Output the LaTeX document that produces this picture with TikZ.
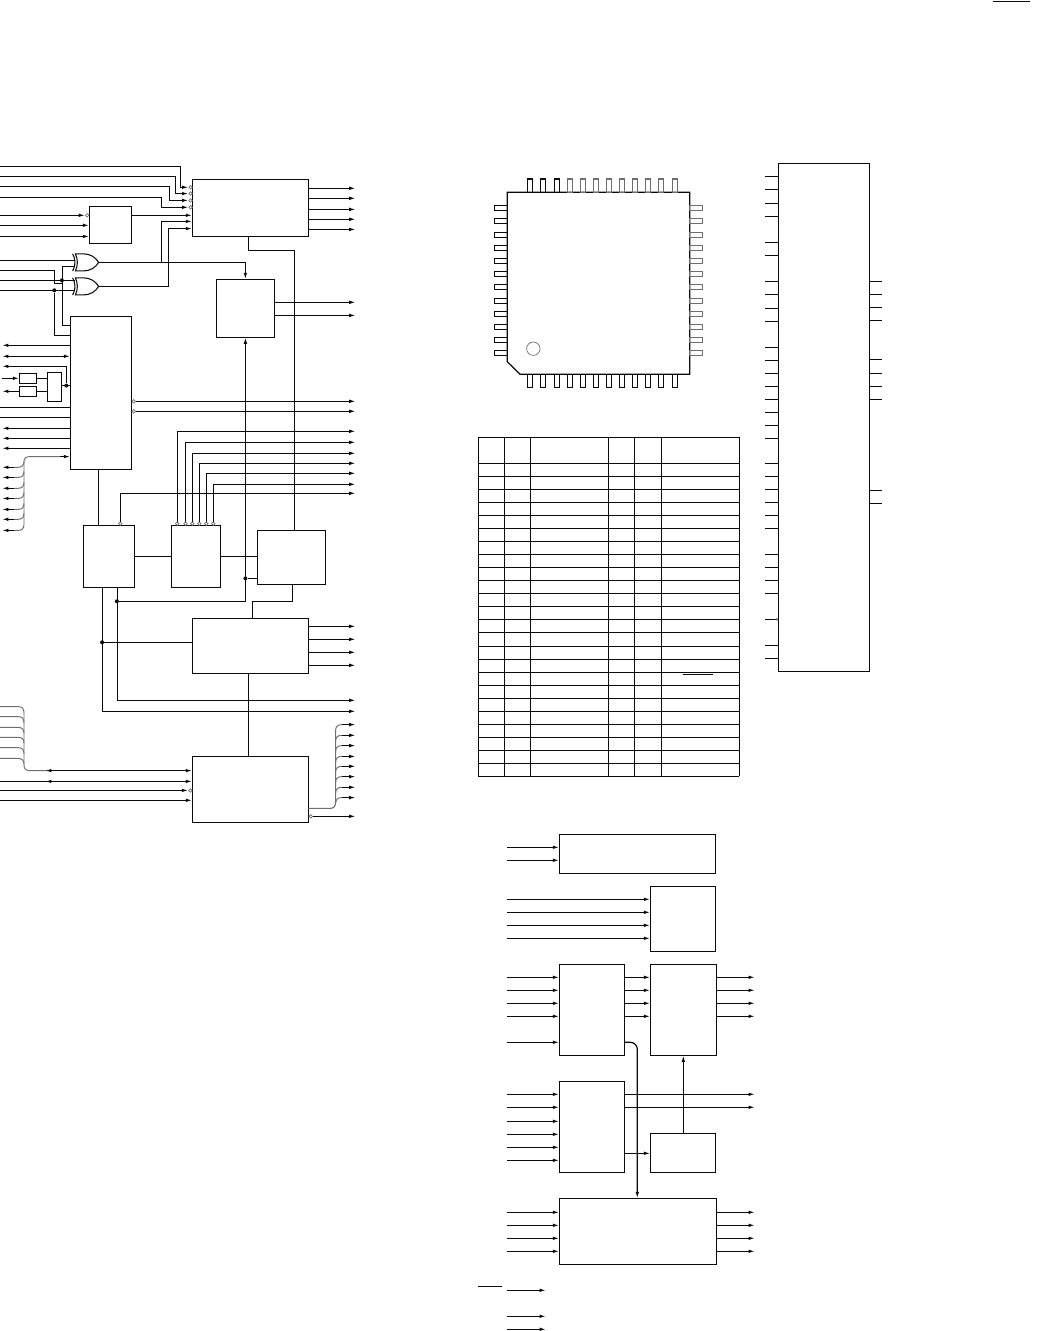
\documentclass[tikz,border=0pt]{standalone}
\usepackage{xcolor}
\usepackage{tikz}
\usetikzlibrary{arrows.meta, calc, shapes.gates.logic.US}
\definecolor{mydark}{RGB}{10,10,10}
\definecolor{mythin}{RGB}{110,110,110}
\tikzset{
  >={Latex[length=1.3mm,width=0.72mm]},
  block/.style={rectangle, draw=mydark, line width=0.7pt, outer sep=0pt,
    inner sep=0pt, anchor=north west},
  boxsize/.style 2 args={minimum width=#1*0.02cm, minimum height=#2*0.02cm},
  wire/.style={line width=0.7pt, color=mydark},
  arrow/.style={->, line width=0.7pt, color=mydark},
  busline/.style={line width=0.55pt, color=mythin},
  opendot/.style={circle, draw=mythin, fill=white, line width=0.4pt,
    inner sep=0pt, minimum size=0.07cm},
  soliddot/.style={circle, fill=mydark, inner sep=0pt, minimum size=0.08cm},
  xorgate/.style={xor gate US, draw=mydark, line width=0.6pt, logic gate inputs=nn,
    inner sep=0pt, scale=0.62, anchor=output}
}
\begin{document}
\begin{tikzpicture}[x=0.02cm, y=-0.02cm]
  \useasboundingbox (0,0) rectangle (1043,1331);
  % Corner mark
  \coordinate (marka) at (993,1.4);
  \coordinate (markb) at (1030,1.4);
  \draw[wire] (marka) -- (markb);

  % Blocks of the left schematic
  \node[block, boxsize={116}{57}] (blkA) at (192.3,179.3) {};
  \node[block, boxsize={42}{37}] (blkB) at (89.3,206.3) {};
  \node[block, boxsize={58}{58}] (blkC) at (216.3,279.3) {};
  \node[block, boxsize={61}{153}] (blkD) at (70.3,316.3) {};
  \node[block, boxsize={17.4}{10}] (blkFa) at (19.3,373.3) {};
  \node[block, boxsize={17.4}{10}] (blkFb) at (19.3,386.3) {};
  \node[block, boxsize={14.4}{29}] (blkG) at (47.3,372.3) {};
  \node[block, boxsize={51}{62}] (blkH) at (83.3,525.3) {};
  \node[block, boxsize={49}{62}] (blkJ) at (171.3,525.3) {};
  \node[block, boxsize={68}{54}] (blkE) at (257.3,530.3) {};
  \node[block, boxsize={116}{55}] (blkK) at (192.3,618.3) {};
  \node[block, boxsize={116}{66}] (blkL) at (192.3,756.3) {};
  \node[xorgate] (xorA) at (99,262.4) {};
  \node[xorgate] (xorB) at (99,286.4) {};

  % Outputs of the top block
  \foreach \y [count=\i] in {188.3,198.3,209.4,219.3,229.4} {
    \coordinate (outA\i) at (355.7,\y);
    \draw[arrow] (blkA.east |- outA\i) -- (outA\i);
  }
  % Inputs with open circles
  \node[opendot] (dotAa) at (190.6,187.3) {};
  \node[opendot] (dotAb) at (190.6,193.6) {};
  \node[opendot] (dotAc) at (190.6,200.4) {};
  \node[opendot] (dotAd) at (190.6,207.3) {};
  \coordinate (inAa) at (0,166.3);
  \coordinate (inAb) at (0,176.3);
  \coordinate (inAc) at (0,186.3);
  \coordinate (inAd) at (0,197.3);
  \draw[arrow] (inAa) -- (180.7,166.3) -- (180.7,187.3) -- (dotAa);
  \draw[arrow] (inAb) -- (175.3,176.3) -- (175.3,193.6) -- (dotAb);
  \draw[arrow] (inAc) -- (169.3,186.3) -- (169.3,200.4) -- (dotAc);
  \draw[arrow] (inAd) -- (161.7,197.3) -- (161.7,207.3) -- (dotAd);
  % Small block
  \node[opendot] (dotB) at (87.2,215.3) {};
  \coordinate (inBa) at (0,215.3);
  \coordinate (inBb) at (0,225.3);
  \coordinate (inBc) at (0,236.4);
  \draw[arrow] (inBa) -- (dotB);
  \draw[arrow] (inBb) -- (blkB.west |- inBb);
  \draw[arrow] (inBc) -- (blkB.west |- inBc);
  \draw[arrow] (blkB.east |- 0,215.3) -- (blkA.west |- 0,215.3);
  % Exclusive-or gates
  \coordinate (inXa) at (0,260.3);
  \coordinate (inXb) at (0,270.4);
  \coordinate (inXc) at (0,280.3);
  \coordinate (inXd) at (0,290.3);
  \node[soliddot] (dotXa) at (61.9,280.3) {};
  \node[soliddot] (dotXb) at (54.3,290.3) {};
  \draw[wire] (inXa) -- (75,260.3);
  \draw[wire] (inXb) -- (54.3,270.4) -- (54.3,283.3) -- (62.3,283.3);
  \draw[wire] (inXc) -- (75,280.3);
  \draw[wire] (inXd) -- (75,290.3);
  \draw[wire] (blkD.west |- 0,325.3) -- (62.3,325.3) -- (62.3,266.3) -- (75,266.3);
  \draw[wire] (dotXb) -- (54.3,335.3) -- (blkD.west |- 0,335.3);
  \draw[arrow] (xorA.output) -- (245.4,262.4) -- (blkC.north -| 245.4,0);
  \draw[arrow] (161.7,262.4) -- (161.7,221.4) -- (blkA.west |- 0,221.4);
  \draw[arrow] (xorB.output) -- (168.3,286.4) -- (168.3,228.6) -- (blkA.west |- 0,228.6);
  % Long runs on the right
  \draw[wire] (248.3,236.3) -- (248.3,250.3) -- (294.3,250.3) -- (blkE.north -| 294.3,0);
  \foreach \y [count=\i] in {302.3,315.4} {
    \coordinate (outC\i) at (355.7,\y);
    \draw[arrow] (blkC.east |- outC\i) -- (outC\i);
  }
  % Left side of the tall block
  \foreach \y [count=\i] in {345.3,428.3,438.3,448.3} {
    \coordinate (lftD\i) at (2,\y);
    \draw[arrow] (blkD.west |- lftD\i) -- (lftD\i);
  }
  \coordinate (lftDe) at (2,356.3);
  \draw[<->, wire] (lftDe) -- (blkD.west |- lftDe);
  \node[soliddot] (dotG) at (66.3,385.6) {};
  \coordinate (lftDf) at (2,366.3);
  \draw[arrow] (dotG) -- (66.3,366.3) -- (lftDf);
  \draw[wire] (blkG.east |- dotG) -- (blkD.west |- dotG);
  \draw[wire] (blkFa.east) -- (blkG.west |- blkFa.east);
  \draw[wire] (blkFb.east) -- (blkG.west |- blkFb.east);
  \coordinate (inFa) at (2,378.3);
  \coordinate (outFb) at (2,391.3);
  \draw[arrow] (inFa) -- (blkFa.west);
  \draw[arrow] (blkFb.west) -- (outFb);
  \coordinate (inDa) at (0,407.3);
  \coordinate (inDb) at (0,417.3);
  \draw[wire] (inDa) -- (blkD.west |- inDa);
  \draw[wire] (inDb) -- (blkD.west |- inDb);
  % Bus at the lower left of the tall block
  \draw[busline] (24,524) -- (24,462) .. controls (24,458) and (26,456.6) .. (30,456.6) -- (60,456.6);
  \draw[->, wire] (60,456.6) -- (blkD.west |- 0,456.6);
  \foreach \y [count=\i] in {467.3,477.4,488.3,498.4,509.4,519.3,530.4} {
    \coordinate (busD\i) at (2,\y);
    \draw[busline] (24,\y-6) .. controls (24,\y-2) and (22,\y) .. (18,\y) -- (14,\y);
    \draw[arrow] (14,\y) -- (busD\i);
  }
  % Right outputs of the tall block
  \node[opendot] (dotDa) at (133.7,401.3) {};
  \node[opendot] (dotDb) at (133.7,411.3) {};
  \coordinate (outDa) at (355.7,401.3);
  \coordinate (outDb) at (355.7,411.3);
  \draw[arrow] (dotDa) -- (outDa);
  \draw[arrow] (dotDb) -- (outDb);
  \draw[wire] (blkD.south -| 98.3,0) -- (blkH.north -| 98.3,0);
  % Open circles on the middle row
  \node[opendot] (dotH) at (120.3,523.6) {};
  \coordinate (outH) at (355.7,493.3);
  \draw[arrow] (dotH) -- (120.3,493.3) -- (outH);
  \foreach \x/\y [count=\i] in {177.3/431.3,185.4/442.3,192.3/453.3,199.3/463.3,206.3/473.3,213.3/484.3} {
    \node[opendot] (dotJ\i) at (\x,523.6) {};
    \coordinate (outJ\i) at (355.7,\y);
    \draw[arrow] (dotJ\i) -- (\x,\y) -- (outJ\i);
  }
  \draw[wire] (blkH.east |- 0,556.3) -- (blkJ.west |- 0,556.3);
  \draw[wire] (blkJ.east |- 0,556.3) -- (blkE.west |- 0,556.3);
  % Feedback into the block above
  \node[soliddot] (dotEa) at (245.4,578.4) {};
  \node[soliddot] (dotEb) at (116.9,601.3) {};
  \draw[wire] (blkE.west |- dotEa) -- (dotEa);
  \draw[arrow] (dotEb) -- (245.4,601.3) -- (blkC.south -| 245.4,0);
  \draw[wire] (292.7,584.3) -- (292.7,601.3) -- (252.3,601.3) -- (252.3,618.3);
  % Below the middle row
  \node[soliddot] (dotK) at (102.1,642.3) {};
  \coordinate (outHa) at (355.7,700.3);
  \coordinate (outHb) at (355.7,711.3);
  \draw[arrow] (117.3,587.3) -- (117.3,700.3) -- (outHa);
  \draw[arrow] (102.3,587.3) -- (102.3,711.3) -- (outHb);
  \draw[wire] (dotK) -- (blkK.west |- dotK);
  \foreach \y [count=\i] in {626.3,639.3,652.3,665.3} {
    \coordinate (outK\i) at (355.7,\y);
    \draw[arrow] (blkK.east |- outK\i) -- (outK\i);
  }
  \draw[wire] (248.3,673.3) -- (248.3,756.3);
  % Bottom block, left side
  \foreach \y in {706.6,716.6,727.4,737.3,747.6,758.4} {
    \draw[busline] (0,\y) -- (18,\y) .. controls (22,\y) and (24,\y+2) .. (24,\y+6);
  }
  \draw[busline] (24,712) -- (24,765) .. controls (24,769) and (26,770.6) .. (30,770.6) -- (47,770.6);
  \coordinate (tipLa) at (45,770.6);
  \draw[<->, wire] (tipLa) -- (blkL.west |- tipLa);
  \coordinate (inLb) at (0,781.4);
  \coordinate (tipLb) at (45,781.4);
  \draw[arrow] (inLb) -- (blkL.west |- inLb);
  \draw[arrow] (52,781.4) -- (tipLb);
  \node[opendot] (dotLa) at (190.4,790.4) {};
  \coordinate (inLc) at (0,790.4);
  \coordinate (inLd) at (0,800.3);
  \draw[arrow] (inLc) -- (dotLa);
  \draw[arrow] (inLd) -- (blkL.west |- inLd);
  % Bottom block, right side
  \draw[busline, line width=0.65pt] (blkL.east |- 0,808.4) -- (330,808.4) .. controls (334,808.4) and (335.6,806) .. (335.6,802) -- (335.6,730);
  \foreach \y [count=\i] in {724.6,735.3,745.6,756.4,766.3,776.6,787.3,797.6} {
    \coordinate (outL\i) at (355.7,\y);
    \draw[busline] (335.6,\y+6) .. controls (335.6,\y+2) and (337.5,\y) .. (342,\y);
    \draw[arrow] (342,\y) -- (outL\i);
  }
  \node[opendot] (dotLb) at (310.8,816.3) {};
  \coordinate (outLx) at (355.7,816.3);
  \draw[arrow] (dotLb) -- (outLx);

  % Package outline
  \draw[line width=0.7pt, color=mydark] (507.3,192.3) -- (689.7,192.3) -- (689.7,374.3)
    -- (520,374.3) -- (507.3,361.7) -- cycle;
  \draw[line width=0.4pt, color=mythin] (533.3,348.7) circle (6.7);
  \foreach \i in {0,...,11} {
    \pgfmathsetmacro\px{round(527.3+13.12*\i)+0.4}
    \pgfmathsetmacro\py{round(205.3+13.18*\i)+0.4}
    \pgfmathsetmacro\pintop{\i<3 ? "mydark" : "mythin"}
    \draw[line width=0.7pt, color=\pintop] (\px,192.3) rectangle (\px+5,179);
    \draw[line width=0.7pt, color=mydark] (\px,374.3) rectangle (\px+5,387.6);
    \draw[line width=0.7pt, color=mydark] (507.3,\py) rectangle (494.6,\py+5);
    \draw[line width=0.7pt, color=mythin] (689.7,\py) rectangle (702.6,\py+5);
  }

  % Pin table
  \foreach \x in {478.3,504.3,530.3,608.3,634.3,661.3,739.3} {
    \draw[wire] (\x,437.3) -- (\x,776.3);
  }
  \foreach \y in {437.3,463.3,476.3,489.3,502.3,515.3,528.3,541.3,554.3,567.3,580.3,593.3,606.3,619.3,632.3,646.3,659.3,672.3,685.3,698.3,711.3,724.3,737.3,750.3,763.3,776.3} {
    \draw[wire] (478.3,\y) -- (739.3,\y);
  }
  \draw[wire] (683,674.3) -- (713,674.3);

  % Pin box on the right
  \node[block, boxsize={91}{508}] (pinbox) at (778.3,163.3) {};
  \foreach \y [count=\i] in {176.3,189.3,203.3,216.3,242.3,255.3,281.3,294.3,308.3,321.3,347.3,360.3,373.3,386.3,399.3,412.3,425.3,438.3,463.3,476.3,489.3,502.3,515.3,528.3,554.3,567.3,580.3,593.3,619.3,645.3,658.3} {
    \coordinate (pinL\i) at (765,\y);
    \draw[wire] (pinL\i) -- (pinbox.west |- pinL\i);
  }
  \foreach \y [count=\i] in {281.3,294.3,307.3,320.3,359.3,373.3,386.3,399.3,490.3,503.3} {
    \coordinate (pinR\i) at (882,\y);
    \draw[wire] (pinbox.east |- pinR\i) -- (pinR\i);
  }
  \node[opendot, minimum size=0.04cm] (dotpin) at (777,619.3) {};

  % Blocks of the lower schematic
  \node[block, boxsize={156}{39}] (lowP) at (559.3,834.3) {};
  \node[block, boxsize={65}{65}] (lowQ) at (650.3,886.3) {};
  \node[block, boxsize={65.4}{91}] (lowR) at (559.3,964.3) {};
  \node[block, boxsize={66}{91}] (lowS) at (650.3,964.3) {};
  \node[block, boxsize={65.4}{91}] (lowT) at (559.3,1081.3) {};
  \node[block, boxsize={65}{39}] (lowU) at (650.3,1133.3) {};
  \node[block, boxsize={157}{66}] (lowV) at (559.3,1198.3) {};
  % Inputs
  \foreach \blk/\y [count=\i] in {lowP/847.3,lowP/860.3,lowQ/899.3,lowQ/912.3,lowQ/925.3,lowQ/938.3,
      lowR/977.3,lowR/990.3,lowR/1003.3,lowR/1016.3,lowR/1042.3,
      lowT/1094.3,lowT/1107.3,lowT/1121.3,lowT/1134.3,lowT/1147.3,lowT/1160.3,
      lowV/1212.3,lowV/1225.3,lowV/1238.3,lowV/1251.3} {
    \coordinate (lowin\i) at (507,\y);
    \draw[arrow] (lowin\i) -- (\blk.west |- lowin\i);
  }
  % Between blocks and outputs
  \foreach \y [count=\i] in {977.3,990.3,1003.3,1016.3} {
    \coordinate (outS\i) at (755,\y);
    \draw[arrow] (lowR.east |- outS\i) -- (lowS.west |- outS\i);
    \draw[arrow] (lowS.east |- outS\i) -- (outS\i);
  }
  \foreach \y [count=\i] in {1094.3,1107.3} {
    \coordinate (outT\i) at (755,\y);
    \draw[arrow] (lowT.east |- outT\i) -- (outT\i);
  }
  \foreach \y [count=\i] in {1212.3,1225.3,1238.3,1251.3} {
    \coordinate (outV\i) at (755,\y);
    \draw[arrow] (lowV.east |- outV\i) -- (outV\i);
  }
  \draw[arrow] (lowT.east |- 0,1153.3) -- (lowU.west |- 0,1153.3);
  \draw[arrow] (lowU.north -| 683.3,0) -- (lowS.south -| 683.3,0);
  \draw[arrow, rounded corners=4pt] (lowR.east |- 0,1042.3) -| (lowV.north -| 637.3,0);
  % Loose lines at the foot
  \coordinate (barA) at (478,1286.3);
  \coordinate (barB) at (502,1286.3);
  \draw[wire] (barA) -- (barB);
  \foreach \y [count=\i] in {1290.3,1316.3,1329.3} {
    \coordinate (foota\i) at (507,\y);
    \coordinate (footb\i) at (546,\y);
    \draw[arrow] (foota\i) -- (footb\i);
  }
\end{tikzpicture}
\end{document}
